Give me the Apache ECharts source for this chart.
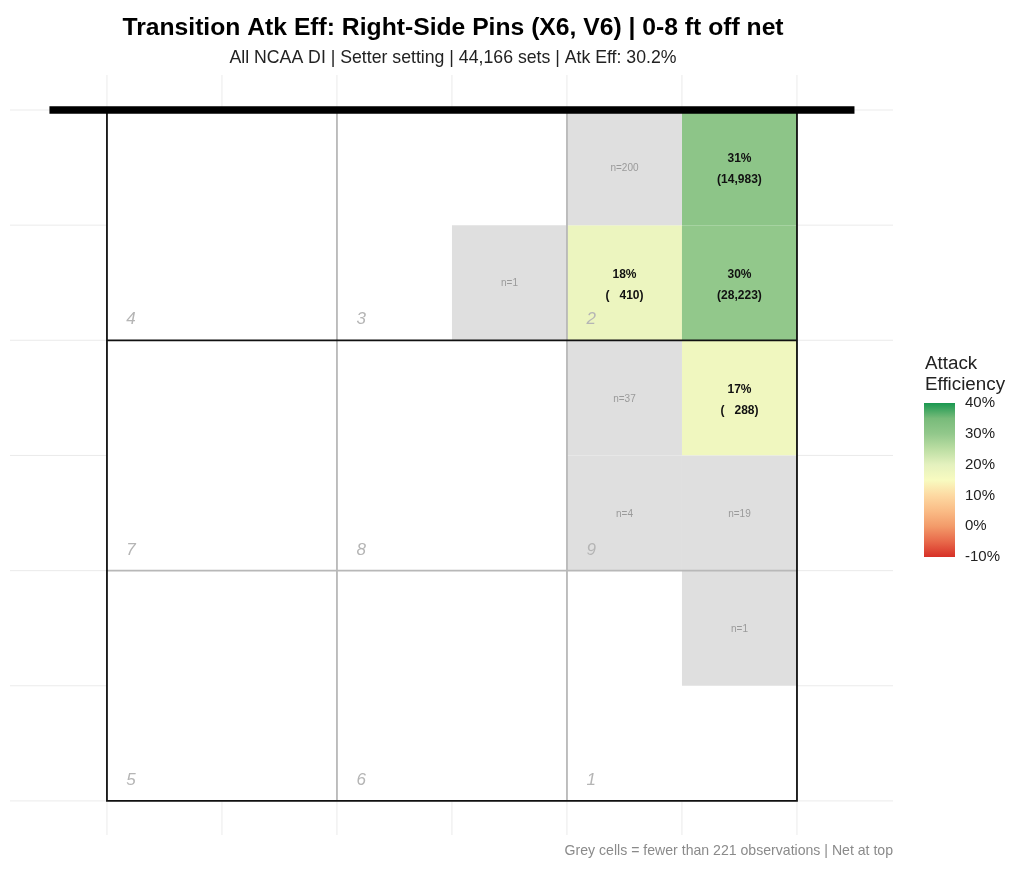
<!DOCTYPE html>
<html>
<head>
<meta charset="utf-8">
<script src="https://cdn.jsdelivr.net/npm/echarts@6/dist/echarts.min.js"></script>
<style>html,body{margin:0;padding:0;background:#fff;}#chart{width:1024px;height:875px;}</style>
</head>
<body>
<div id="chart"></div>
<script>
// ---- data ----
const effCol = [5, 4, 5, 5];
const effRow = [0, 1, 1, 2];
const effValue = [31, 18, 30, 17];
const effCount = [14983, 410, 28223, 288];

const lowCol = [4, 3, 4, 4, 5, 5];
const lowRow = [0, 1, 2, 3, 3, 4];
const lowCount = [200, 1, 37, 4, 19, 1];

const zoneLabels = ['4', '3', '2', '7', '8', '9', '5', '6', '1'];
const gridTicks = [0, 1, 2, 3, 4, 5, 6];
const legendTicks = [-10, 0, 10, 20, 30, 40];
const colorStops = ['#d73027', '#e8694a', '#f39b6a', '#fabc86', '#fdd9a2', '#f8fbc0',
                    '#e4f1be', '#bcdea3', '#92c88b', '#78bb7a', '#1a9850'];

const titleText = 'Transition Atk Eff: Right-Side Pins (X6, V6) | 0-8 ft off net';
const subtitleText = 'All NCAA DI | Setter setting | 44,166 sets | Atk Eff: 30.2%';
const footerText = 'Grey cells = fewer than 221 observations | Net at top';

const FONT = '"Liberation Sans", Arial, sans-serif';

const effData = effCol.map((c, i) => [c, effRow[i], effValue[i], effCount[i]]);
const lowData = lowCol.map((c, i) => [c, lowRow[i], lowCount[i]]);
const gridLineData = gridTicks.map(v => [v, 0]).concat(gridTicks.map(v => [v, 1]));

const chart = echarts.init(document.getElementById('chart'), null, {renderer: 'canvas'});

function cellRect(api, c, r) {
  const p0 = api.coord([c, r]);
  const p1 = api.coord([c + 1, r + 1]);
  return {x: p0[0], y: p0[1], width: p1[0] - p0[0], height: p1[1] - p0[1]};
}

const option = {
  backgroundColor: '#ffffff',
  animation: false,
  grid: [
    {left: 10, right: 131, top: 75, bottom: 40},
    {left: 924, width: 31, top: 403, height: 154}
  ],
  xAxis: [
    {type: 'value', gridIndex: 0, min: -0.843, max: 6.835, show: false},
    {type: 'value', gridIndex: 1, min: 0, max: 1, show: false}
  ],
  yAxis: [
    {type: 'value', gridIndex: 0, min: -0.304, max: 6.296, inverse: true, show: false},
    {type: 'value', gridIndex: 1, min: -10, max: 40, interval: 10, position: 'right',
      axisLine: {show: false},
      axisTick: {show: true, inside: true, length: 6, lineStyle: {color: 'rgba(255,255,255,0.8)', width: 1}},
      splitLine: {show: false},
      axisLabel: {show: true, margin: 10, fontSize: 15, color: '#222', fontFamily: FONT,
        formatter: v => legendTicks.indexOf(v) >= 0 ? v + '%' : ''}},
    {type: 'value', gridIndex: 1, min: -10, max: 40, interval: 10, position: 'left',
      axisLine: {show: false},
      axisTick: {show: true, inside: true, length: 6, lineStyle: {color: 'rgba(255,255,255,0.8)', width: 1}},
      splitLine: {show: false}, axisLabel: {show: false}}
  ],
  visualMap: [{
    type: 'continuous', show: false, min: -10, max: 40, dimension: 2, seriesIndex: 2,
    inRange: {color: colorStops}
  }],
  graphic: [
    {type: 'text', z: 100, style: {text: titleText, x: 453, y: 28, textAlign: 'center', textVerticalAlign: 'middle',
      font: 'bold 24.7px ' + FONT, fill: '#000'}},
    {type: 'text', z: 100, style: {text: subtitleText, x: 453, y: 58, textAlign: 'center', textVerticalAlign: 'middle',
      font: '17.7px ' + FONT, fill: '#222'}},
    {type: 'text', z: 100, style: {text: footerText, x: 893, y: 851, textAlign: 'right', textVerticalAlign: 'middle',
      font: '14.1px ' + FONT, fill: '#8a8a8a'}},
    {type: 'text', z: 100, style: {text: 'Attack\nEfficiency', x: 925, y: 374, textAlign: 'left', textVerticalAlign: 'middle',
      font: '18.8px ' + FONT, fill: '#222', lineHeight: 21}}
  ],
  series: [
    // background panel grid lines
    {
      type: 'custom', xAxisIndex: 0, yAxisIndex: 0, z: 1, silent: true,
      data: gridLineData,
      renderItem: function (params, api) {
        const v = api.value(0), dir = api.value(1);
        const cs = params.coordSys;
        if (dir === 0) {
          const x = api.coord([v, 0])[0];
          return {type: 'line', shape: {x1: x, y1: cs.y, x2: x, y2: cs.y + cs.height},
            style: {stroke: '#ebebeb', lineWidth: 1}};
        }
        const y = api.coord([0, v])[1];
        return {type: 'line', shape: {x1: cs.x, y1: y, x2: cs.x + cs.width, y2: y},
          style: {stroke: '#ebebeb', lineWidth: 1}};
      }
    },
    // court white fill
    {
      type: 'custom', xAxisIndex: 0, yAxisIndex: 0, z: 1.5, silent: true,
      data: [[0, 0, 6, 6]],
      renderItem: function (params, api) {
        const a = api.coord([api.value(0), api.value(1)]);
        const b = api.coord([api.value(2), api.value(3)]);
        return {type: 'rect', shape: {x: a[0], y: a[1], width: b[0] - a[0], height: b[1] - a[1]},
          style: {fill: '#ffffff'}};
      }
    },
    // efficiency cells
    {
      type: 'custom', xAxisIndex: 0, yAxisIndex: 0, z: 2, silent: true,
      data: effData,
      renderItem: function (params, api) {
        const c = api.value(0), r = api.value(1), v = api.value(2), n = api.value(3);
        const rc = cellRect(api, c, r);
        const txt = Math.round(v) + '%\n(' + n.toLocaleString('en-US').padStart(6, ' ') + ')';
        return {type: 'group', children: [
          {type: 'rect', shape: rc, style: {fill: api.visual('color')}},
          {type: 'text', style: {text: txt, x: rc.x + rc.width / 2, y: rc.y + rc.height / 2 + 2,
            textAlign: 'center', textVerticalAlign: 'middle', font: 'bold 12px ' + FONT, fill: '#111', lineHeight: 21}}
        ]};
      }
    },
    // low sample cells
    {
      type: 'custom', xAxisIndex: 0, yAxisIndex: 0, z: 2, silent: true,
      data: lowData,
      renderItem: function (params, api) {
        const c = api.value(0), r = api.value(1), n = api.value(2);
        const rc = cellRect(api, c, r);
        return {type: 'group', children: [
          {type: 'rect', shape: rc, style: {fill: '#dfdfdf'}},
          {type: 'text', style: {text: 'n=' + n, x: rc.x + rc.width / 2, y: rc.y + rc.height / 2 + 1,
            textAlign: 'center', textVerticalAlign: 'middle', font: '10px ' + FONT, fill: '#9a9a9a'}}
        ]};
      }
    },
    // court lines
    {
      type: 'custom', xAxisIndex: 0, yAxisIndex: 0, z: 3, silent: true,
      data: [[0, 0]],
      renderItem: function (params, api) {
        const tl = api.coord([0, 0]), br = api.coord([6, 6]);
        const x2 = api.coord([2, 0])[0], x4 = api.coord([4, 0])[0];
        const y2 = api.coord([0, 2])[1], y4 = api.coord([0, 4])[1];
        const grey = {stroke: '#b8b8b8', lineWidth: 1.8};
        const blk = {stroke: '#111', lineWidth: 1.8};
        return {type: 'group', children: [
          {type: 'line', shape: {x1: x2, y1: tl[1], x2: x2, y2: br[1]}, style: grey},
          {type: 'line', shape: {x1: x4, y1: tl[1], x2: x4, y2: br[1]}, style: grey},
          {type: 'line', shape: {x1: tl[0], y1: y4, x2: br[0], y2: y4}, style: grey},
          {type: 'line', shape: {x1: tl[0], y1: y2, x2: br[0], y2: y2}, style: blk},
          {type: 'rect', shape: {x: tl[0], y: tl[1], width: br[0] - tl[0], height: br[1] - tl[1]},
            style: {fill: null, stroke: '#111', lineWidth: 1.8}}
        ]};
      }
    },
    // net
    {
      type: 'custom', xAxisIndex: 0, yAxisIndex: 0, z: 4, silent: true,
      data: [[-0.5, 0, 6.5]],
      renderItem: function (params, api) {
        const a = api.coord([api.value(0), api.value(1)]);
        const b = api.coord([api.value(2), api.value(1)]);
        return {type: 'line', shape: {x1: a[0], y1: a[1], x2: b[0], y2: b[1]},
          style: {stroke: '#000', lineWidth: 7.5}};
      }
    },
    // zone labels
    {
      type: 'custom', xAxisIndex: 0, yAxisIndex: 0, z: 5, silent: true,
      data: zoneLabels.map((l, i) => [i % 3, Math.floor(i / 3)]),
      renderItem: function (params, api) {
        const zc = api.value(0), zr = api.value(1);
        const p = api.coord([zc * 2 + 0.21, zr * 2 + 1.82]);
        return {type: 'text', style: {text: zoneLabels[params.dataIndex], x: p[0], y: p[1],
          textAlign: 'center', textVerticalAlign: 'middle', font: 'italic 17px ' + FONT, fill: '#b5b5b5'}};
      }
    },
    // colorbar
    {
      type: 'custom', xAxisIndex: 1, yAxisIndex: 1, z: 2, silent: true,
      data: [[0, -10, 1, 40]],
      renderItem: function (params, api) {
        const a = api.coord([api.value(0), api.value(3)]);
        const b = api.coord([api.value(2), api.value(1)]);
        const stops = colorStops.map((c, i) => ({offset: i / (colorStops.length - 1), color: c}));
        return {type: 'rect', shape: {x: a[0], y: a[1], width: b[0] - a[0], height: b[1] - a[1]},
          style: {fill: new echarts.graphic.LinearGradient(0, 1, 0, 0, stops)}};
      }
    }
  ]
};
chart.setOption(option);
</script>
</body>
</html>
